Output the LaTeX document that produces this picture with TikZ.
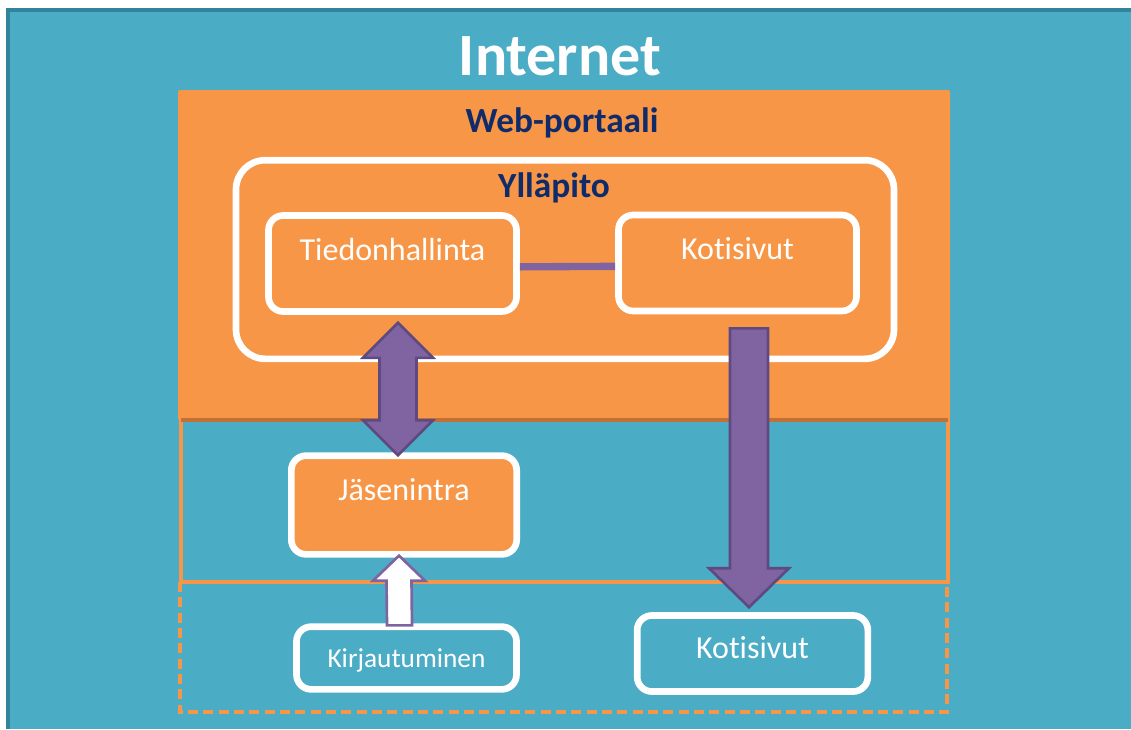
\documentclass[tikz,border=0pt]{standalone}
\usepackage{fontspec}
\setmainfont{Carlito}[Ligatures={NoCommon}]
\usetikzlibrary{positioning,calc,shadows}

\definecolor{netblue}{HTML}{4BACC6}
\definecolor{netedge}{HTML}{31849B}
\definecolor{portal}{HTML}{F79646}
\definecolor{portaldark}{HTML}{C46F33}
\definecolor{violet}{HTML}{8064A2}
\definecolor{violetdark}{HTML}{5E4A80}
\definecolor{navy}{HTML}{102B6A}

\tikzset{
  box/.style={draw=white, line width=5pt, rounded corners=11pt, fill=portal,
    text=white, font=\fontsize{24}{28}\selectfont, inner sep=0pt,
    drop shadow={shadow xshift=1pt, shadow yshift=-2pt, opacity=.25}},
  hibox/.style={box, text height=17pt, text depth=22pt},
  lowbox/.style={box, fill=netblue, text height=16pt, text depth=8pt},
  heading/.style={anchor=base, text=navy, font=\fontsize{26.5}{30}\selectfont\bfseries},
  fatarrow/.style={fill=violet, draw=violetdark, line width=2pt, line join=miter},
  thinarrow/.style={fill=white, draw=violet, line width=2pt, line join=miter}
}

\begin{document}
\begin{tikzpicture}[x=0.75pt,y=-0.75pt]
  \useasboundingbox (0,0) rectangle (1131,729);
  % background
  \fill[netblue] (6,8) rectangle (1131,729);
  \draw[netedge, line width=3pt] (8,729) -- (8,10) -- (1131,10);
  \node[anchor=base, text=white, font=\fontsize{45}{50}\selectfont\bfseries] (inet) at (560,75) {Internet};

  % regions
  \draw[portal, line width=2.5pt] (181,420) rectangle (948,582);
  \draw[portal, line width=3pt, dash pattern=on 7.5pt off 4pt] (180,582) rectangle (947,712);
  \fill[portal, rounded corners=1.5pt] (178,90) rectangle (950,420);
  \draw[portaldark, line width=3.5pt] (181,420) -- (948,420);
  \node[heading] (portaali) at (562,132) {Web-portaali};

  % yllapito
  \node[box, rounded corners=22pt, minimum width=493.5pt, minimum height=149pt] (yp) at (565,259.5) {};
  \node[heading] (yptitle) at (554,197) {Ylläpito};
  \node[hibox, minimum width=186pt, minimum height=72pt] (tied) at (392.5,263.5) {Tiedonhallinta};
  \node[hibox, minimum width=178.5pt, minimum height=72pt] (kot1) at (737.5,263) {Kotisivut};
  \draw[violet, line width=5.5pt] ([yshift=-2.5pt]tied.east) -- ([yshift=-2.5pt]kot1.west);

  % lower boxes
  \node[hibox, text depth=24pt, minimum width=169pt, minimum height=74pt] (ja) at (404,505) {Jäsenintra};
  \node[lowbox, font=\fontsize{20.5}{24}\selectfont, text height=14pt, text depth=0.5pt,
        minimum width=165pt, minimum height=47pt] (kirj) at (406.5,658) {Kirjautuminen};
  \node[lowbox, minimum width=173pt, minimum height=57pt] (kot2) at (752.5,653.5) {Kotisivut};

  % arrows
  \coordinate (dtop) at ($(tied.south)+(5.5,8)$);
  \coordinate (dbot) at ($(ja.north)+(-6,3)$);
  \draw[fatarrow] (dtop) -- ++(35,35) -- ++(-16.5,0) -- ($(dbot)+(18.5,-35)$) -- ++(16.5,0)
    -- (dbot) -- ++(-35,-35) -- ++(16.5,0) -- ($(dtop)+(-18.5,35)$) -- ++(-16.5,0) -- cycle;

  \coordinate (ktop) at ($(kot1.south)+(11.5,14)$);
  \coordinate (ktip) at ($(kot2.north)+(-3.5,-5)$);
  \draw[fatarrow] ($(ktop)+(-19,0)$) -- ($(ktip)+(-19,-39)$) -- ++(-21,0) -- (ktip)
    -- ++(40,-39) -- ++(-21,0) -- ($(ktop)+(19,0)$) -- cycle;

  \coordinate (lbot) at ($(kirj.north)+(-7,2)$);
  \coordinate (ltip) at ($(ja.south)+(-5,-2)$);
  \draw[thinarrow] ($(lbot)+(-12.5,0)$) -- ($(ltip)+(-12.5,25)$) -- ++(-13.5,0) -- (ltip)
    -- ++(26,25) -- ++(-13.5,0) -- ($(lbot)+(12.5,0)$) -- cycle;
\end{tikzpicture}
\end{document}
